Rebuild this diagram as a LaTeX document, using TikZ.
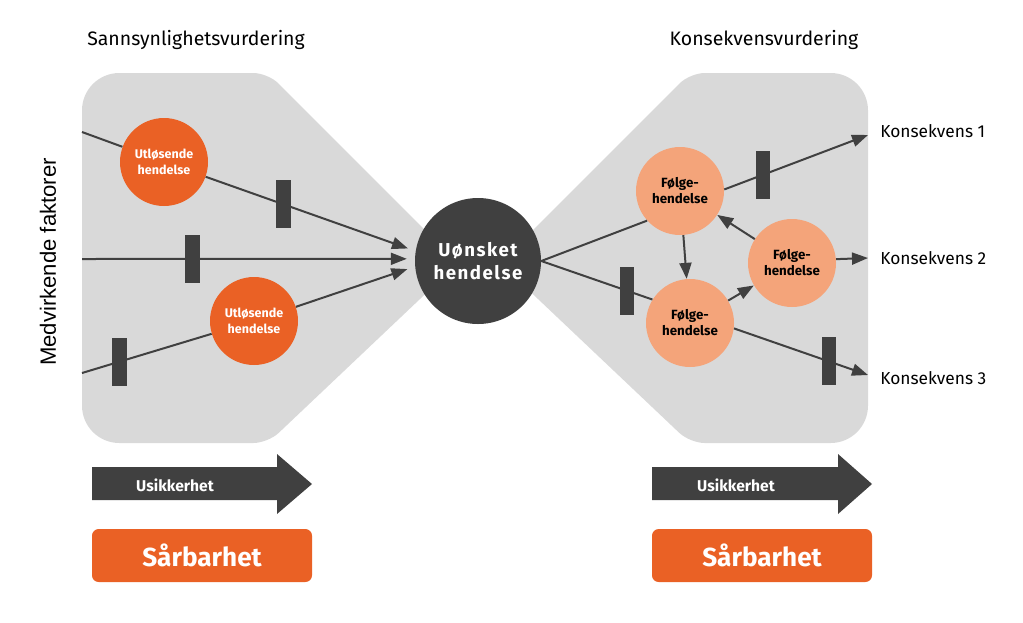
\documentclass[tikz,border=0pt]{standalone}
\usepackage{fontspec}
\setmainfont{Fira Sans}
\newfontfamily\arialf{Liberation Sans}
\usetikzlibrary{arrows.meta}
\definecolor{bowgray}{HTML}{D9D9D9}
\definecolor{dark}{HTML}{404040}
\definecolor{orng}{HTML}{EA6125}
\definecolor{peach}{HTML}{F4A47A}
\begin{document}
\begin{tikzpicture}[x=0.75pt,y=-0.75pt,
  conn/.style={draw=dark, line width=1.5pt},
  arr/.style={conn, -{Triangle[length=12pt,width=9pt]}},
  bar/.style={fill=dark, draw=none, minimum width=11pt, minimum height=36pt, inner sep=0pt},
  cause/.style={circle, fill=orng, minimum size=66pt, inner sep=0pt, text=white, font=\bfseries\fontsize{9.4}{11.5}\selectfont, align=center},
  follow/.style={circle, fill=peach, minimum size=66pt, inner sep=0pt, text=black, font=\bfseries\fontsize{10}{12}\selectfont, align=center},
  hazard/.style={circle, fill=dark, minimum size=94.5pt, inner sep=0pt, text=white, font=\bfseries\fontsize{14}{17}\selectfont\addfontfeature{LetterSpace=8}, align=center},
  klabel/.style={anchor=west, inner sep=0pt, font=\fontsize{13}{15}\selectfont},
  title/.style={inner sep=0pt, font=\fontsize{14.6}{17}\selectfont},
  utext/.style={inner sep=0pt, text=white, font=\bfseries\fontsize{11.7}{14}\selectfont},
  vuln/.style={fill=orng, rounded corners=5pt, minimum width=165pt, minimum height=39.75pt, inner sep=0pt, text=white, font=\bfseries\fontsize{19.6}{23}\selectfont}
]
\useasboundingbox (0,0) rectangle (1023,622);
% grey bow-tie halves
\fill[bowgray] (82,258) [rounded corners=28pt] -- (82,73) -- (175,73) [rounded corners=11pt]
  -- (268,73) -- (458,263) -- (268,443) -- (175,443) [rounded corners=28pt] -- (82,443) -- cycle;
\fill[bowgray] (868,258) [rounded corners=28pt] -- (868,73) -- (780,73) [rounded corners=11pt]
  -- (690,73) -- (500,263) -- (690,443) -- (780,443) [rounded corners=28pt] -- (868,443) -- cycle;
% titles
\node[title] (T1) at (196,40) {Sannsynlighetsvurdering};
\node[title] (T2) at (764,40) {Konsekvensvurdering};
\node[rotate=90, inner sep=0pt, font=\arialf\fontsize{16.6}{19}\selectfont] (M) at (48,262) {Medvirkende faktorer};
% nodes
\node[hazard] (C) at (478,261) {Uønsket\\hendelse};
\node[cause] (u1) at (164,162) {Utløsende\\hendelse};
\node[cause] (u2) at (254,321) {Utløsende\\hendelse};
\node[follow] (fa) at (680,191) {Følge-\\hendelse};
\node[follow] (fb) at (690,323) {Følge-\\hendelse};
\node[follow] (fc) at (792,263) {Følge-\\hendelse};
% left connectors
\coordinate (l1) at (82,132);
\coordinate (l2) at (82,259);
\coordinate (l3) at (82,373);
\draw[conn] (l1) -- (u1);
\draw[arr, shorten >=6pt] (u1) -- node[bar, pos=0.37]{} (C.171);
\draw[arr, shorten >=6pt] (l2) -- node[bar, pos=0.333]{} (C.178);
\draw[conn] (l3) -- node[bar, pos=0.29]{} (u2);
\draw[arr, shorten >=6pt] (u2) -- (C.185);
% right connectors
\coordinate (k1) at (868,135);
\coordinate (k2) at (868,258);
\coordinate (k3) at (868,375);
\draw[conn] (C.0) -- (fa.222);
\draw[conn] (C.0) -- node[bar, pos=0.77]{} (fb.148);
\draw[arr] (fa.2) -- node[bar, pos=0.27]{} (k1);
\draw[arr] (fc.5) -- (k2);
\draw[arr] (fb.-7) -- node[bar, pos=0.71]{} (k3);
\draw[arr] (fa) -- (fb);
\draw[arr] (fc) -- (fa);
\draw[arr] (fb) -- (fc);
% consequence labels
\node[klabel] (K1) at (880,131) {Konsekvens 1};
\node[klabel] (K2) at (880,258) {Konsekvens 2};
\node[klabel] (K3) at (880,378) {Konsekvens 3};
% uncertainty arrows
\fill[dark] (92,467) -- (277,467) -- (277,454) -- (312,484) -- (277,514) -- (277,500) -- (92,500) -- cycle;
\node[utext] (U1) at (175,485) {Usikkerhet};
\fill[dark] (652,467) -- (838,467) -- (838,454) -- (872,484) -- (838,514) -- (838,500) -- (652,500) -- cycle;
\node[utext] (U2) at (736,485) {Usikkerhet};
% vulnerability boxes
\node[vuln] (S1) at (202,555.5) {Sårbarhet};
\node[vuln] (S2) at (762,555.5) {Sårbarhet};
\end{tikzpicture}
\end{document}
